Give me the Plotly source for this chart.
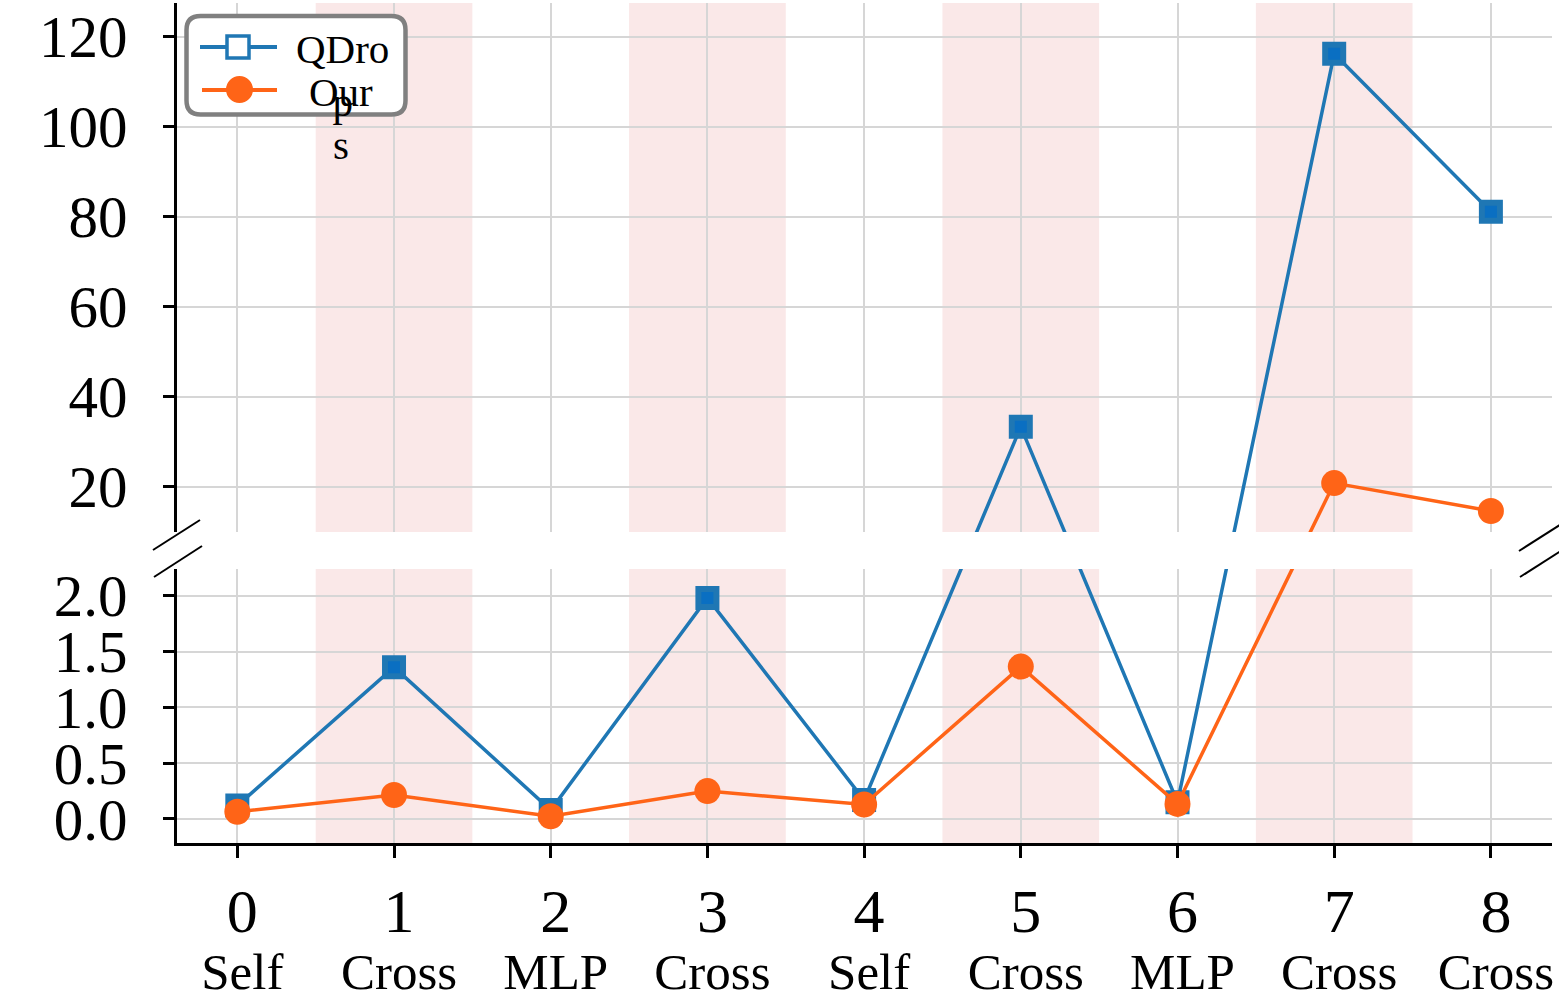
import plotly.graph_objects as go

# ---------------- data ----------------
layer_idx = [0, 1, 2, 3, 4, 5, 6, 7, 8]
layer_type = ["Self", "Cross", "MLP", "Cross", "Self", "Cross", "MLP", "Cross", "Cross"]
qdrop = [0.12, 1.36, 0.08, 1.98, 0.17, 33.3, 0.15, 116.2, 81.1]
ours = [0.065, 0.215, 0.025, 0.25, 0.13, 1.365, 0.135, 20.8, 14.6]
highlight = [1, 3, 5, 7]
low_ticks = [0.0, 0.5, 1.0, 1.5, 2.0]
high_ticks = [20, 40, 60, 80, 100, 120]

# broken y-axis: lower segment / upper segment value ranges
LOW_RANGE = (-0.215, 2.239)
HIGH_RANGE = (9.93, 127.5)

# ---------------- style ----------------
W, H = 1559, 999
ML, MR, MT, MB = 177, 7, 3, 156
PW, PH = W - ML - MR, H - MT - MB
LOW_H, GAP_H, HIGH_H = 274, 37, 529   # pixel heights of the two segments and the gap
FONT = "Liberation Serif"
BLUE = "#1f77b4"
BLUE_FILL = "#0a6fc2"
ORANGE = "#ff6417"
GRID = "#d6d6d6"
BAND = "#fae8e8"


def px(x):
    return (x - ML) / PW


def py(y):
    return (H - MB - y) / PH


def broken(v):
    """Map a value onto the broken (two-segment) y scale."""
    if v <= LOW_RANGE[1]:
        return (v - LOW_RANGE[0]) / (LOW_RANGE[1] - LOW_RANGE[0]) * LOW_H
    return LOW_H + GAP_H + (v - HIGH_RANGE[0]) / (HIGH_RANGE[1] - HIGH_RANGE[0]) * HIGH_H


fig = go.Figure()
fig.add_trace(go.Scatter(
    x=layer_idx, y=[broken(v) for v in qdrop], customdata=qdrop,
    mode="lines+markers", name="QDrop", showlegend=False,
    hovertemplate="%{x}: %{customdata}<extra>QDrop</extra>",
    line=dict(color=BLUE, width=3.5),
    marker=dict(symbol="square", size=18, color=BLUE_FILL,
                line=dict(color=BLUE, width=6)),
))
fig.add_trace(go.Scatter(
    x=layer_idx, y=[broken(v) for v in ours], customdata=ours,
    mode="lines+markers", name="Ours", showlegend=False,
    hovertemplate="%{x}: %{customdata}<extra>Ours</extra>",
    line=dict(color=ORANGE, width=3.5),
    marker=dict(symbol="circle", size=26, color=ORANGE, line=dict(width=0)),
))

shapes = []
for b in highlight:
    shapes.append(dict(type="rect", xref="x", yref="y domain", x0=b - 0.5, x1=b + 0.5,
                       y0=0, y1=1, fillcolor=BAND, line=dict(width=0), layer="below"))

# white gap of the broken axis
shapes.append(dict(type="rect", xref="paper", yref="y", x0=px(168), x1=px(1570),
                   y0=LOW_H, y1=LOW_H + GAP_H, fillcolor="white", line=dict(width=0),
                   layer="above"))

# broken-axis marks
for (x0, y0, x1, y1) in [(153, 550, 200, 520), (154, 577, 202, 546),
                         (1519, 551, 1566, 521), (1520, 577, 1567, 547)]:
    shapes.append(dict(type="line", xref="paper", yref="paper",
                       x0=px(x0), y0=py(y0), x1=px(x1), y1=py(y1),
                       line=dict(color="black", width=2)))

# legend box (rounded)
lx0, lx1, ly0, ly1, r = 186.5, 405.5, 16, 114.5, 14
X0, X1, Yt, Yb = px(lx0), px(lx1), py(ly0), py(ly1)
rx, ry = r / PW, r / PH
path = (f"M {X0+rx},{Yt} L {X1-rx},{Yt} Q {X1},{Yt} {X1},{Yt-ry} "
        f"L {X1},{Yb+ry} Q {X1},{Yb} {X1-rx},{Yb} L {X0+rx},{Yb} "
        f"Q {X0},{Yb} {X0},{Yb+ry} L {X0},{Yt-ry} Q {X0},{Yt} {X0+rx},{Yt} Z")
shapes.append(dict(type="path", xref="paper", yref="paper", path=path,
                   fillcolor="white", line=dict(color="#808080", width=4.5)))
shapes.append(dict(type="line", xref="paper", yref="paper", x0=px(200), x1=px(277),
                   y0=py(47), y1=py(47), line=dict(color=BLUE, width=4)))
shapes.append(dict(type="rect", xref="paper", yref="paper", x0=px(227), x1=px(249),
                   y0=py(36), y1=py(58), fillcolor="white", line=dict(color=BLUE, width=3.5)))
shapes.append(dict(type="line", xref="paper", yref="paper", x0=px(202), x1=px(277),
                   y0=py(90), y1=py(90), line=dict(color=ORANGE, width=4)))
shapes.append(dict(type="circle", xref="paper", yref="paper", x0=px(226), x1=px(253),
                   y0=py(76), y1=py(103), fillcolor=ORANGE, line=dict(width=0)))

annotations = [
    dict(text="QDro<br>p", xref="paper", yref="paper", x=px(342), y=py(24),
         xanchor="center", yanchor="top", showarrow=False, align="center",
         font=dict(family=FONT, size=41, color="black")),
    dict(text="Our<br>s", xref="paper", yref="paper", x=px(341), y=py(67),
         xanchor="center", yanchor="top", showarrow=False, align="center",
         font=dict(family=FONT, size=41, color="black")),
]

ticktext = [f"<span style='font-size:62px'>{i}</span><br><span style='font-size:51px'>{t}</span>"
            for i, t in zip(layer_idx, layer_type)]
ytickvals = [broken(v) for v in low_ticks] + [broken(v) for v in high_ticks]
yticktext = [f"{v:.1f}" for v in low_ticks] + [str(v) for v in high_ticks]

fig.update_layout(
    width=W, height=H, autosize=False,
    margin=dict(l=ML, r=MR, t=MT, b=MB),
    paper_bgcolor="white", plot_bgcolor="white",
    font=dict(family=FONT, color="black"),
    shapes=shapes, annotations=annotations,
    showlegend=False,
    xaxis=dict(range=[-0.385, 8.39], automargin=False,
               tickmode="array", tickvals=layer_idx, ticktext=ticktext,
               tickfont=dict(family=FONT, size=44, color="black"),
               ticks="outside", ticklen=12, tickwidth=2.5, tickcolor="black",
               showline=True, linecolor="black", linewidth=2.5,
               ticklabelstandoff=21, ticklabelshift=5,
               showgrid=True, gridcolor=GRID, gridwidth=2, zeroline=False),
    yaxis=dict(range=[0, LOW_H + GAP_H + HIGH_H], automargin=False,
               tickmode="array", tickvals=ytickvals, ticktext=yticktext,
               tickfont=dict(family=FONT, size=59, color="black"),
               ticks="outside", ticklen=11, tickwidth=2.5, tickcolor="black",
               showline=True, linecolor="black", linewidth=2.5,
               ticklabelstandoff=24,
               showgrid=True, gridcolor=GRID, gridwidth=2, zeroline=False),
)

fig.write_html("out.html", config={"displayModeBar": False},
               post_script="document.body.style.margin='0';document.body.style.overflow='hidden';")
